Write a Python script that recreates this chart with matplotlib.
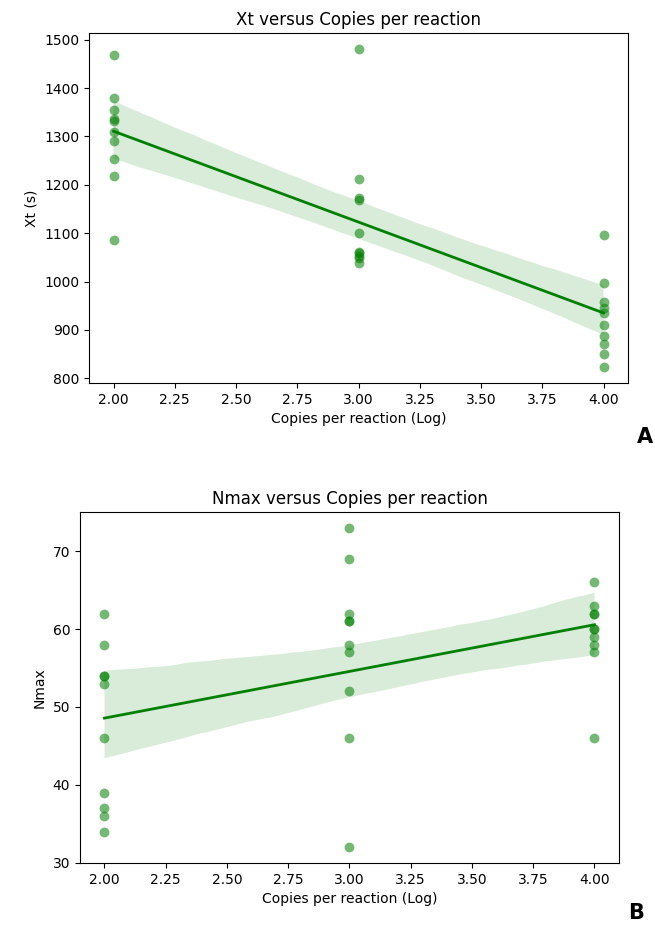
"""
Xt and Nmax against copies per reaction (log), with linear fits
"""

import numpy as np
import pandas as pd
import matplotlib
matplotlib.use("Agg")
import matplotlib.pyplot as plt
import seaborn as sns

# Copies per reaction (log), 10 replicates per level
copies = [2.0] * 10 + [3.0] * 10 + [4.0] * 10

# Xt (s)
xt = [1468, 1379, 1355, 1336, 1331, 1310, 1291, 1253, 1219, 1086,
      1481, 1212, 1172, 1168, 1100, 1062, 1058, 1052, 1048, 1038,
      1096, 996, 958, 945, 935, 910, 887, 870, 850, 823]

# Nmax
nmax = [62, 58, 54, 54, 53, 46, 39, 37, 36, 34,
        73, 69, 62, 61, 61, 58, 57, 52, 46, 32,
        66, 63, 62, 62, 60, 60, 59, 58, 57, 46]

df = pd.DataFrame({"copies": copies, "xt": xt, "nmax": nmax})

fig = plt.figure(figsize=(6.55, 9.25), dpi=100)
ax1 = fig.add_axes([0.1359, 0.5859, 0.8229, 0.3784])
ax2 = fig.add_axes([0.1221, 0.0670, 0.8229, 0.3795])

scatter_kws = {"alpha": 0.55, "s": 50, "linewidths": 0}
line_kws = {"lw": 2}

sns.regplot(data=df, x="copies", y="xt", ax=ax1, color="green",
            scatter_kws=scatter_kws, line_kws=line_kws, seed=3)
ax1.set_title("Xt versus Copies per reaction", fontsize=12)
ax1.set_xlabel("Copies per reaction (Log)")
ax1.set_ylabel("Xt (s)")

sns.regplot(data=df, x="copies", y="nmax", ax=ax2, color="green",
            scatter_kws=scatter_kws, line_kws=line_kws, seed=3)
ax2.set_title("Nmax versus Copies per reaction", fontsize=12)
ax2.set_xlabel("Copies per reaction (Log)")
ax2.set_ylabel("Nmax")

for ax in (ax1, ax2):
    ax.set_xticks(np.arange(2.0, 4.01, 0.25))
    ax.set_xticklabels(["%.2f" % t for t in np.arange(2.0, 4.01, 0.25)])

fig.text(645 / 655, 1 - 437 / 925, "A", fontsize=15, fontweight="bold",
         ha="center", va="center")
fig.text(636 / 655, 1 - 913 / 925, "B", fontsize=15, fontweight="bold",
         ha="center", va="center")

fig.savefig("out.png", dpi=100)
